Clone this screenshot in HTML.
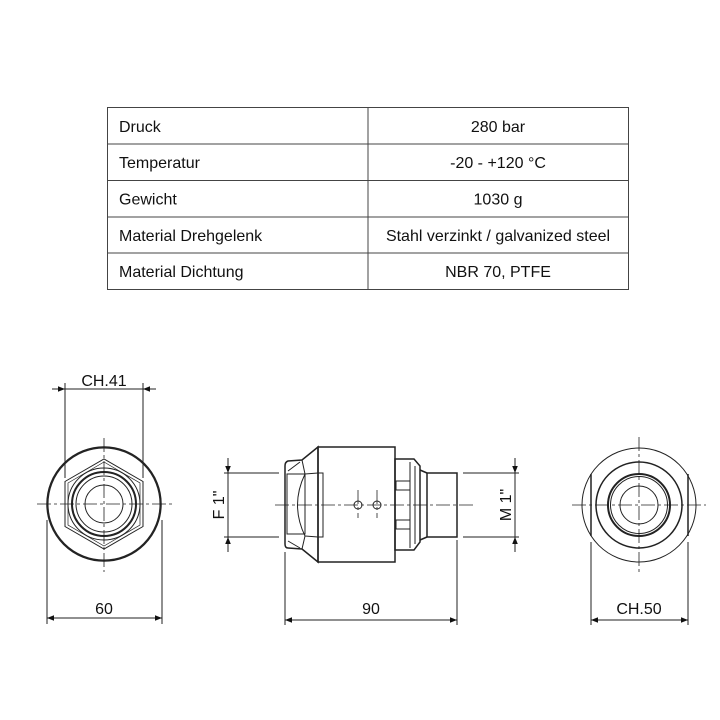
<!DOCTYPE html>
<html><head><meta charset="utf-8"><style>
body{margin:0;background:#fff;width:720px;height:720px;overflow:hidden}
svg{position:absolute;left:0;top:0}
text{font-family:"Liberation Sans",sans-serif;fill:#111}
</style></head><body>
<svg width="720" height="720" viewBox="0 0 720 720">
<defs>
<marker id="a" viewBox="0 0 10 10" refX="10" refY="5" markerWidth="9" markerHeight="7" orient="auto-start-reverse" markerUnits="userSpaceOnUse"><path d="M0,1 L10,5 L0,9 z" fill="#111"/></marker>
</defs>
<g stroke="#444" stroke-width="1" fill="none">
<rect x="107.5" y="107.5" width="521" height="182"/>
<line x1="368" y1="107.5" x2="368" y2="289.5"/>
<line x1="107.5" y1="144" x2="628.5" y2="144"/>
<line x1="107.5" y1="180.5" x2="628.5" y2="180.5"/>
<line x1="107.5" y1="217" x2="628.5" y2="217"/>
<line x1="107.5" y1="253" x2="628.5" y2="253"/>
</g>
<g font-size="16">
<text x="119" y="132">Druck</text>
<text x="119" y="168">Temperatur</text>
<text x="119" y="204.5">Gewicht</text>
<text x="119" y="241">Material Drehgelenk</text>
<text x="119" y="277">Material Dichtung</text>
<g text-anchor="middle">
<text x="498" y="132">280 bar</text>
<text x="498" y="168">-20 - +120 °C</text>
<text x="498" y="204.5">1030 g</text>
<text x="498" y="241">Stahl verzinkt / galvanized steel</text>
<text x="498" y="277">NBR 70, PTFE</text>
</g>
</g>

<g stroke="#222" fill="none" stroke-width="1">
<!-- left view -->
<circle cx="104" cy="504" r="57" stroke-width="1.5"/>
<circle cx="104" cy="504" r="56"/>
<polygon points="65,481.5 104,459 143,481.5 143,526.5 104,549 65,526.5"/>
<polygon points="68,483 104,462 140,483 140,525 104,546 68,525" stroke-width="0.7"/>
<circle cx="104" cy="504" r="36"/>
<circle cx="104" cy="504" r="32" stroke-width="2"/>
<circle cx="104" cy="504" r="28"/>
<circle cx="104" cy="504" r="19"/>
<g stroke-dasharray="14,3,3,3" stroke-width="0.8">
<line x1="37" y1="504" x2="172" y2="504"/><line x1="104" y1="438" x2="104" y2="572"/>
</g>
<line x1="65" y1="383" x2="65" y2="478"/><line x1="143" y1="383" x2="143" y2="478"/>
<line x1="52" y1="389" x2="65" y2="389" marker-end="url(#a)"/>
<line x1="65" y1="389" x2="143" y2="389"/>
<line x1="156" y1="389" x2="143" y2="389" marker-end="url(#a)"/>
<line x1="47" y1="520" x2="47" y2="624"/><line x1="162" y1="520" x2="162" y2="624"/>
<line x1="47" y1="618" x2="162" y2="618" marker-start="url(#a)" marker-end="url(#a)"/>

<!-- right view -->
<circle cx="639" cy="505" r="57"/>
<line x1="591" y1="474" x2="591" y2="536" stroke-width="1.5"/>
<line x1="688" y1="474" x2="688" y2="536" stroke-width="1.5"/>
<circle cx="639" cy="505" r="43" stroke-width="1.5"/>
<circle cx="639" cy="505" r="31" stroke-width="2"/>
<circle cx="639" cy="505" r="28.5"/>
<circle cx="639" cy="505" r="19"/>
<g stroke-dasharray="14,3,3,3" stroke-width="0.8">
<line x1="572" y1="505" x2="706" y2="505"/><line x1="639" y1="437" x2="639" y2="575"/>
</g>
<line x1="591" y1="542" x2="591" y2="625"/><line x1="688" y1="542" x2="688" y2="625"/>
<line x1="591" y1="620" x2="688" y2="620" marker-start="url(#a)" marker-end="url(#a)"/>

<!-- middle view -->
<g stroke-width="1.5">
<path d="M318,447 L302,460 L288,461 Q285,462 285,466 L285,544 Q285,548 288,548 L302,549 L318,562 Z"/>
<rect x="318" y="447" width="77" height="115"/>
<path d="M395,459 L414,459 L420,466 L420,542 L414,550 L395,550 Z"/>
<rect x="427" y="473" width="30" height="64"/>
<path d="M420,470 L427,473 M420,540 L427,537"/>
</g>
<rect x="287" y="474" width="18" height="60"/>
<path d="M305,474 Q290,505 305,536"/>
<path d="M318,473 L323,473 L323,537 L318,537"/>
<path d="M302,460 L305,474 M302,549 L305,536 M288,471 L300,462 M288,541 L300,548"/>
<path d="M305,474 L318,473 M305,536 L318,537"/>
<path d="M396,481 L410,481 L410,490 L396,490 Z M396,520 L410,520 L410,529 L396,529 Z"/>
<path d="M410,462 L410,548 M415,466 L415,544"/>
<circle cx="358" cy="505" r="4"/><circle cx="377" cy="505" r="4"/>
<g stroke-dasharray="14,3,3,3" stroke-width="0.8">
<line x1="275" y1="505" x2="475" y2="505"/>
<line x1="358" y1="490" x2="358" y2="518"/><line x1="377" y1="490" x2="377" y2="518"/>
</g>
<line x1="224" y1="473" x2="279" y2="473"/><line x1="224" y1="537" x2="279" y2="537"/>
<line x1="228" y1="458" x2="228" y2="473" marker-end="url(#a)"/>
<line x1="228" y1="473" x2="228" y2="537"/>
<line x1="228" y1="552" x2="228" y2="537" marker-end="url(#a)"/>
<line x1="463" y1="473" x2="519" y2="473"/><line x1="463" y1="537" x2="519" y2="537"/>
<line x1="515" y1="458" x2="515" y2="473" marker-end="url(#a)"/>
<line x1="515" y1="473" x2="515" y2="537"/>
<line x1="515" y1="552" x2="515" y2="537" marker-end="url(#a)"/>
<line x1="285" y1="552" x2="285" y2="625"/><line x1="457" y1="540" x2="457" y2="625"/>
<line x1="285" y1="620" x2="457" y2="620" marker-start="url(#a)" marker-end="url(#a)"/>
</g>
<g font-size="16" text-anchor="middle">
<text x="104" y="386">CH.41</text>
<text x="104" y="614">60</text>
<text x="371" y="614">90</text>
<text x="639" y="614">CH.50</text>
<text transform="translate(224,505) rotate(-90)">F 1"</text>
<text transform="translate(511,505) rotate(-90)">M 1"</text>
</g>
</svg>
</body></html>
